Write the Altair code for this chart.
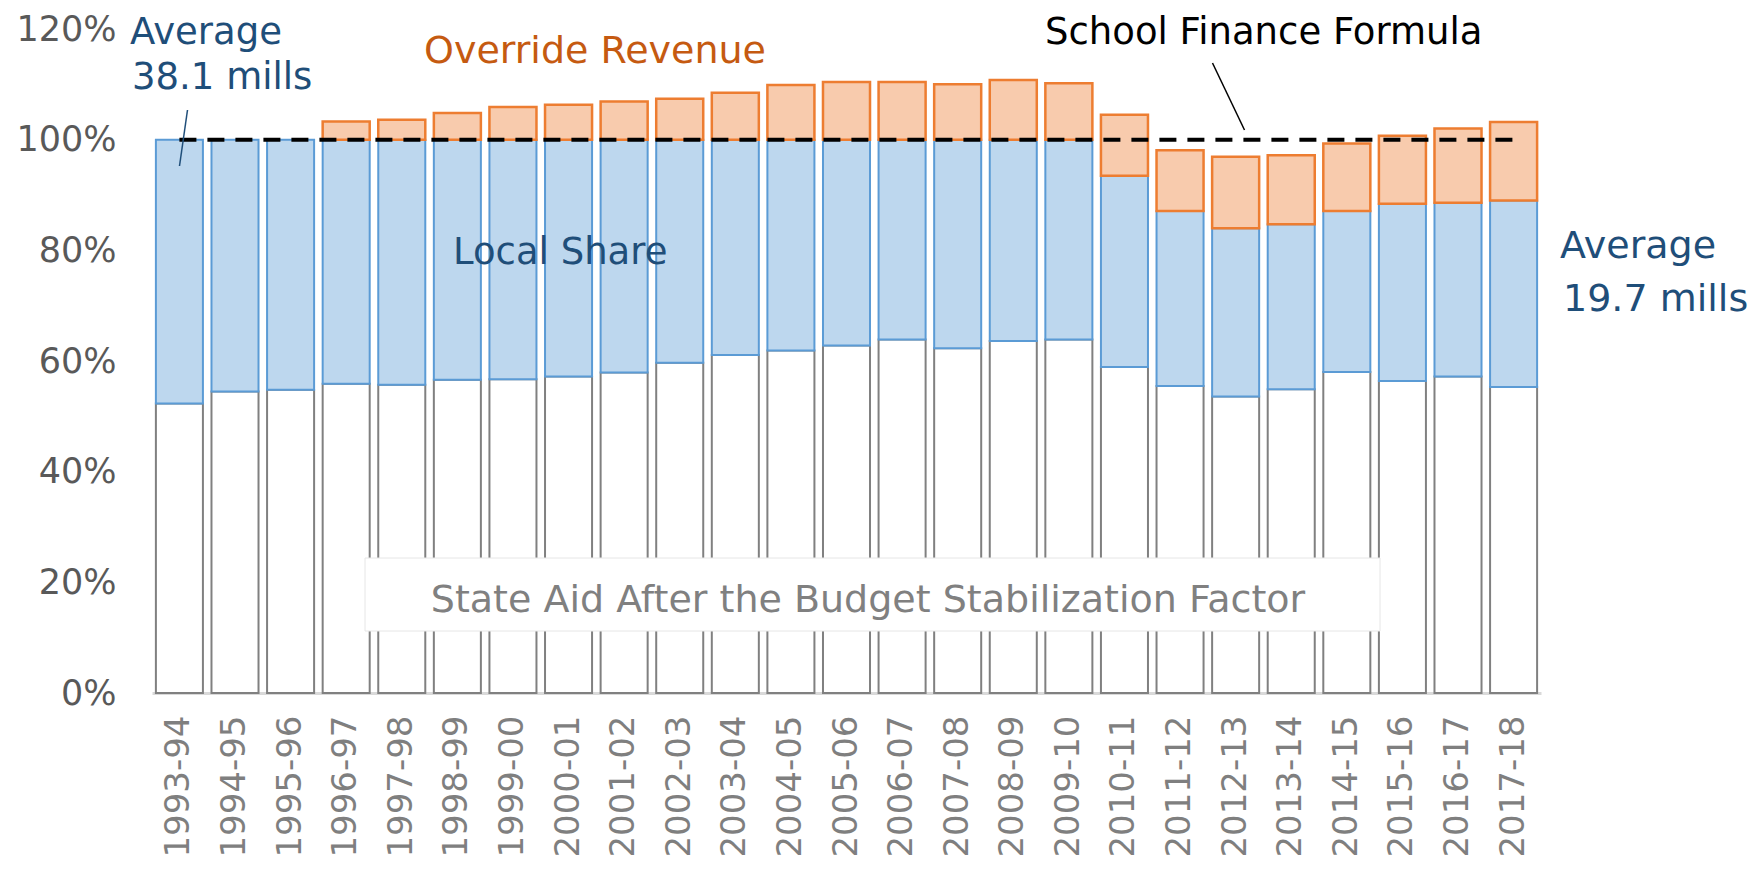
import altair as alt
import pandas as pd

years = ["1993-94", "1994-95", "1995-96", "1996-97", "1997-98", "1998-99", "1999-00",
         "2000-01", "2001-02", "2002-03", "2003-04", "2004-05", "2005-06", "2006-07",
         "2007-08", "2008-09", "2009-10", "2010-11", "2011-12", "2012-13", "2013-14",
         "2014-15", "2015-16", "2016-17", "2017-18"]
state_aid = [52.3, 54.5, 54.8, 55.9, 55.7, 56.6, 56.7, 57.2, 57.9, 59.7, 61.1, 61.9, 62.8,
             63.9, 62.3, 63.6, 63.9, 58.9, 55.5, 53.6, 54.9, 58.0, 56.4, 57.2, 55.3]
local_share = [47.7, 45.5, 45.2, 44.1, 44.3, 43.4, 43.3, 42.8, 42.1, 40.3, 38.9, 38.1, 37.2,
               36.1, 37.7, 36.4, 36.1, 34.6, 31.6, 30.4, 29.8, 29.1, 32.0, 31.4, 33.7]
override_rev = [0, 0, 0, 3.3, 3.6, 4.8, 5.9, 6.3, 6.9, 7.4, 8.5, 9.9, 10.4,
                10.4, 10.0, 10.8, 10.2, 11.0, 11.0, 12.9, 12.5, 12.2, 12.3, 13.4, 14.2]
formula_level = 100
y_ticks = [0, 20, 40, 60, 80, 100, 120]

df = pd.DataFrame({"year": years, "state": state_aid, "local": local_share, "override": override_rev})
df["local_top"] = df["state"] + df["local"]
df["over_top"] = df["local_top"] + df["override"]

FONT = "DejaVu Sans"
W, H = 1389, 664

x_enc = alt.X("year:N", sort=years, title=None,
              scale=alt.Scale(paddingInner=0.154, paddingOuter=0.07),
              axis=alt.Axis(labelAngle=270, labelFontSize=34, labelColor="#7F7F7F",
                            labelFont=FONT, labelPadding=22, ticks=False,
                            domainColor="#D9D9D9", domainWidth=3, labelAlign="right",
                            labelBaseline="middle"))
y_scale = alt.Scale(domain=[0, 120], nice=False, zero=True)
y_axis = alt.Axis(values=y_ticks, labelExpr="datum.value + '%'", grid=False, ticks=False,
                  domain=False, labelFontSize=35, labelColor="#595959", labelFont=FONT,
                  labelPadding=36)

base = alt.Chart(df)

state_bars = base.mark_bar(fill="white", stroke="#808080", strokeWidth=2).encode(
    x=x_enc, y=alt.Y("state:Q", scale=y_scale, axis=y_axis, title=None))
local_bars = base.mark_bar(fill="#BDD7EE", stroke="#5B9BD5", strokeWidth=2).encode(
    x=x_enc, y=alt.Y("local_top:Q", scale=y_scale, axis=y_axis, title=None), y2="state:Q")
over_bars = base.transform_filter("datum.override > 0").mark_bar(
    fill="#F8CBAD", stroke="#ED7D31", strokeWidth=2.5).encode(
    x=x_enc, y=alt.Y("over_top:Q", scale=y_scale, axis=y_axis, title=None), y2="local_top:Q")

formula_line = base.mark_line(color="black", strokeDash=[17, 11], strokeWidth=4).encode(
    x=x_enc, y=alt.Y(datum=formula_level, scale=y_scale, axis=y_axis, title=None))

one = pd.DataFrame({"k": [0]})

box = alt.Chart(one).mark_rect(fill="white", stroke="#E6E6E6", strokeWidth=1).encode(
    x=alt.value(213), x2=alt.value(1228), y=alt.value(529), y2=alt.value(602))


def label(text, x, y, color, size, align="left"):
    return alt.Chart(one).mark_text(align=align, baseline="middle", font=FONT,
                                    fontSize=size, color=color).encode(
        x=alt.value(x), y=alt.value(y), text=alt.value(text))


def leader(x1, y1, x2, y2, color):
    return alt.Chart(one).mark_rule(color=color, strokeWidth=1.5).encode(
        x=alt.value(x1), y=alt.value(y1), x2=alt.value(x2), y2=alt.value(y2))


blue = "#1F4E79"
texts = [
    label("Average", -22, 4, blue, 37),
    label("38.1 mills", -20, 49, blue, 37),
    label("Override Revenue", 272, 23, "#C55A11", 38),
    label("School Finance Formula", 893, 4, "black", 37),
    label("Local Share", 301, 224, blue, 37),
    label("State Aid After the Budget Stabilization Factor", 716, 572, "#808080", 38, "center"),
    label("Average", 1408, 218, blue, 38),
    label("19.7 mills", 1411, 271, blue, 38),
]
lines = [
    leader(35.5, 81, 27.5, 137, blue),
    leader(1060.5, 34, 1092.5, 101, "black"),
]

chart = alt.layer(state_bars, local_bars, over_bars, box, formula_line, *lines, *texts).properties(
    width=W, height=H,
    autosize=alt.AutoSizeParams(type="none"),
    padding={"left": 144, "top": 21, "right": 208, "bottom": 172},
).configure(font=FONT).configure_view(stroke=None)

chart.save("out.html", embed_options={"renderer": "svg", "actions": False})
